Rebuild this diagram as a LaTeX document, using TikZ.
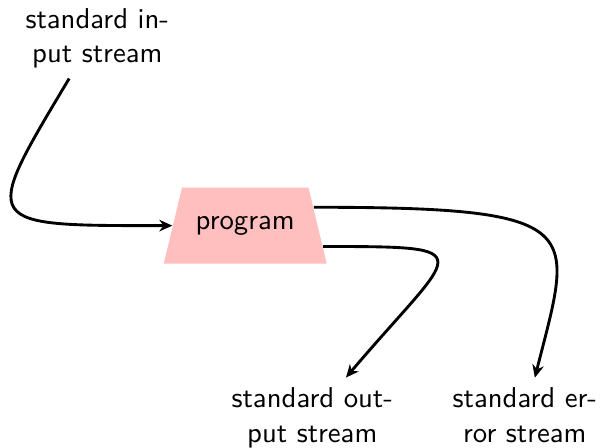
\documentclass[tikz,border=0pt]{standalone}
\usepackage{tikz}
\usetikzlibrary{shapes.geometric,arrows.meta}
\tikzset{
  stream/.style={align=center,font=\sffamily},
  prog/.style={trapezium,trapezium angle=66,trapezium stretches=true,fill=red!25,
    minimum width=2cm,minimum height=0.93cm,font=\sffamily},
  flow/.style={line width=1pt,-{Stealth[length=4.5pt,width=4pt]}}
}
\begin{document}
\begin{tikzpicture}
\useasboundingbox (0,0) rectangle (7.34,5.48);
\node[prog] (p) at (3.00,2.72) {program};
\node[stream] (in) at (1.19,5.01) {standard in-\\put stream};
\node[stream] (out) at (3.82,0.37) {standard out-\\put stream};
\node[stream] (err) at (6.42,0.40) {standard er-\\ror stream};
\draw[flow] (in.-125) .. controls +(-1.09,-1.82) and +(-2.36,0) .. (p.west);
\draw[flow] (p.-15) .. controls +(2.0,0) and +(1.35,1.59) .. (out.50);
\draw[flow] (p.15) .. controls +(3.41,0) and +(0.46,1.83) .. (err.75);
\end{tikzpicture}
\end{document}
